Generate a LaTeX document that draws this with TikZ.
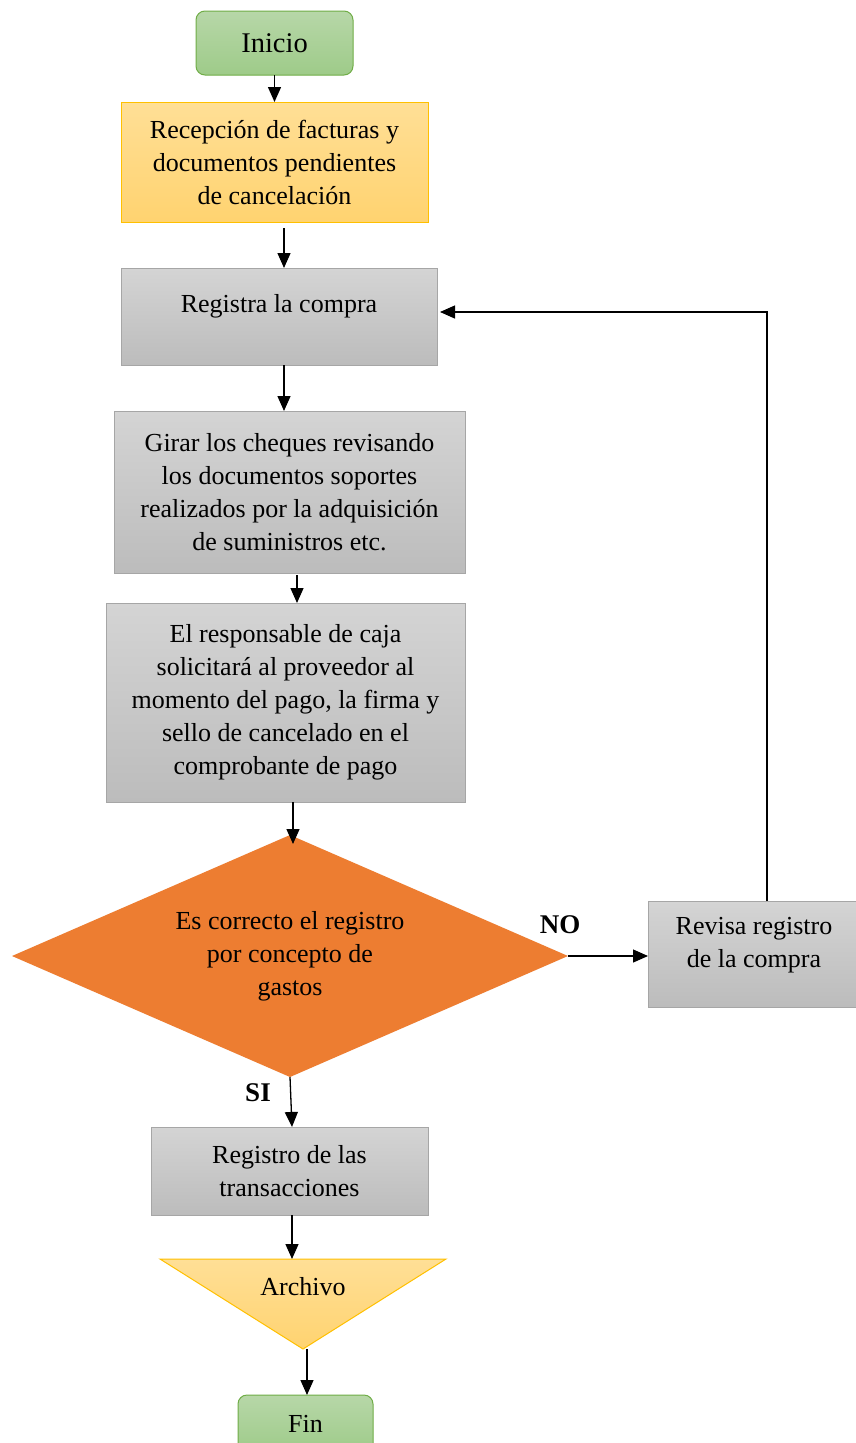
\documentclass[tikz,border=0pt]{standalone}
\usepackage{fontspec}
\setmainfont{Liberation Serif}
\usetikzlibrary{shapes.geometric,arrows.meta}
\definecolor{verdeA}{RGB}{183,215,168}
\definecolor{verdeB}{RGB}{158,203,137}
\definecolor{verdeL}{RGB}{112,173,71}
\definecolor{amarA}{RGB}{255,223,150}
\definecolor{amarB}{RGB}{255,211,112}
\definecolor{amarL}{RGB}{255,192,0}
\definecolor{grisA}{RGB}{212,212,212}
\definecolor{grisB}{RGB}{188,188,188}
\definecolor{grisL}{RGB}{166,166,166}
\definecolor{naranja}{RGB}{237,125,49}

\begin{document}
\begin{tikzpicture}[x=1pt,y=-1pt,>={Triangle[length=15pt,width=13pt]},
		every node/.style={font=\fontsize{26}{33}\selectfont, align=center,%
			inner sep=0pt, outer sep=0pt},
		inifin/.style={draw=verdeL, line width=1pt, rounded corners=9pt,%
			top color=verdeA, bottom color=verdeB},
		amarilla/.style={draw=amarL, line width=1pt, top color=amarA, bottom color=amarB},
		caja/.style={draw=grisL, line width=1pt, top color=grisA, bottom color=grisB},
		decision/.style={diamond, fill=naranja, aspect=2.3,%
			minimum width=556pt, minimum height=242pt},
		etiq/.style={font=\fontsize{27}{33}\selectfont\bfseries},
		flecha/.style={->, line width=1.3pt}]
		\useasboundingbox (0,0) rectangle (856,1443);
		\path[fill=white] (0,0) rectangle (856,1443);
		% nodos
		\node[inifin, minimum width=157pt, minimum height=64pt,%
			font=\fontsize{28.5}{33}\selectfont] (ini) at (274.5,43) {Inicio};
		\node[amarilla, minimum width=307pt, minimum height=120pt] (rec) at (274.5,162)
			{Recepción de facturas y\\ documentos pendientes\\ de cancelación};
		\node[caja, minimum width=316pt, minimum height=97pt, text depth=27pt] (reg) at (279,316.5)
			{Registra la compra};
		\node[caja, minimum width=351pt, minimum height=162pt] (gir) at (289.5,492)
			{Girar los cheques revisando\\ los documentos soportes\\ realizados por la adquisición\\ de suministros etc.};
		\node[caja, minimum width=359pt, minimum height=199pt] (resp) at (285.5,702.5)
			{El responsable de caja\\ solicitará al proveedor al\\ momento del pago, la firma y\\ sello de cancelado en el\\ comprobante de pago};
		\node[decision] (dec) at (290,956)
			{Es correcto el registro\\ por concepto de\\ gastos};
		\node[caja, minimum width=212pt, minimum height=106pt, text depth=24pt] (rev) at (754,954)
			{Revisa registro\\ de la compra};
		\node[caja, minimum width=277pt, minimum height=88pt] (trans) at (289.5,1171)
			{Registro de las\\ transacciones};
		\coordinate (archA) at (160,1259);
		\coordinate (archB) at (446,1259);
		\coordinate (archTip) at (303,1349);
		\path[amarilla] (archA) -- (archB) -- (archTip) -- cycle;
		\node (arch) at (303,1287) {Archivo};
		\coordinate (archTop) at (292,1259);
		\node[inifin, minimum width=135pt, minimum height=58pt] (fin) at (305.5,1424) {Fin};
		\node[etiq] (no) at (560,925) {NO};
		\node[etiq] (si) at (258,1093) {SI};
		% conectores
		\draw[flecha] (ini.south) -- (rec.north);
		\draw[flecha] ([xshift=9.5pt,yshift=-6pt]rec.south) -- ([xshift=5pt]reg.north);
		\draw[flecha] ([xshift=5pt]reg.south) -- ([xshift=-5.5pt]gir.north);
		\draw[flecha] ([xshift=7.5pt,yshift=-2pt]gir.south) -- ([xshift=11.5pt]resp.north);
		\draw[flecha] ([xshift=7.5pt]resp.south) -- ([xshift=3pt,yshift=-9pt]dec.north);
		\draw[flecha] (dec.east) -- (dec.east -| rev.west);
		\draw[flecha] ([xshift=13pt]rev.north) |- ([xshift=3pt,yshift=4.5pt]reg.east);
		\draw[flecha] (dec.south) -- ([xshift=2.5pt]trans.north);
		\draw[flecha] ([xshift=2.5pt]trans.south) -- (archTop);
		\draw[flecha] ([xshift=4pt]archTip) -- ([xshift=1.5pt]fin.north);
	\end{tikzpicture}
\end{document}
